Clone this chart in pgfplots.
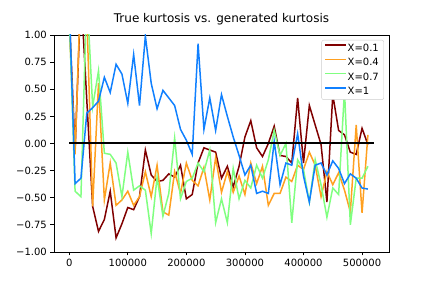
\documentclass[border=0pt]{standalone}
\usepackage{pgfplots}
\usepackage{pgfplotstable}
\pgfplotsset{compat=1.18}
\usepackage{fontspec}
\setmainfont{DejaVu Sans}
\definecolor{cbrown}{RGB}{128,0,0}
\definecolor{corange}{RGB}{255,160,32}
\definecolor{cgreen}{RGB}{128,255,128}
\definecolor{cblue}{RGB}{16,128,255}
\pgfplotstableread{
x brown orange green blue
0 1.2 1.1 1.2 1.3
10000 -0.06 -0.1 -0.44 -0.37
20000 1.4 1.5 -0.49 -0.32
30000 0.4 1.2 1.4 0.28
40000 -0.58 -0.58 0.34 0.33
50000 -0.81 0.555 0.67 0.39
60000 -0.70 -0.52 -0.09 0.61
70000 -0.44 -0.18 -0.10 0.47
80000 -0.87 -0.57 -0.18 0.73
90000 -0.74 -0.52 -0.49 0.64
100000 -0.59 -0.44 -0.08 0.37
110000 -0.61 -0.57 -0.43 0.82
120000 -0.49 -0.49 -0.39 0.35
130000 -0.06 -0.26 -0.43 0.99
140000 -0.29 -0.49 -0.83 0.555
150000 -0.35 -0.20 -0.31 0.32
160000 -0.34 -0.63 -0.67 0.49
170000 -0.28 -0.66 -0.46 0.42
180000 -0.31 -0.26 0.05 0.35
190000 -0.20 -0.46 -0.51 0.13
200000 -0.51 -0.18 -0.35 0.03
210000 -0.47 -0.34 -0.32 -0.10
220000 -0.18 -0.39 -0.18 0.92
230000 -0.04 -0.22 -0.26 0.13
240000 -0.06 -0.52 -0.06 0.42
250000 -0.08 -0.13 -0.73 0.12
260000 -0.32 -0.45 -0.51 0.45
270000 -0.21 -0.26 -0.73 0.25
280000 -0.40 -0.45 -0.23 0.06
290000 -0.21 -0.30 -0.51 -0.11
300000 0.06 -0.47 -0.34 -0.29
310000 0.21 -0.18 -0.41 -0.20
320000 -0.04 -0.37 -0.20 -0.46
330000 -0.12 -0.21 -0.32 -0.44
340000 0.0 -0.57 -0.15 -0.46
350000 0.16 -0.46 0.12 0.02
360000 -0.11 -0.46 -0.11 -0.38
370000 -0.12 -0.31 0.0 -0.18
380000 -0.18 -0.35 -0.73 -0.20
390000 0.42 -0.20 -0.15 0.09
400000 -0.18 -0.24 -0.24 -0.30
410000 0.35 -0.08 -0.54 -0.54
420000 0.17 -0.20 -0.15 -0.20
430000 -0.01 -0.49 -0.38 -0.18
440000 -0.54 -0.26 -0.68 -0.29
450000 0.45 -0.38 -0.41 -0.16
460000 0.12 -0.27 -0.47 -0.23
470000 0.08 -0.43 0.49 -0.37
480000 -0.08 -0.63 -0.75 -0.28
490000 -0.10 0.17 -0.32 -0.32
500000 0.14 -0.64 -0.32 -0.41
510000 -0.01 0.08 -0.21 -0.42
}\datatable
\begin{document}
\begin{tikzpicture}
\useasboundingbox (0,0) rectangle (432pt,288pt);
\begin{axis}[
  at={(54pt,36pt)}, anchor=south west,
  scale only axis, width=335pt, height=217pt,
  xmin=-26000, xmax=546000, ymin=-1, ymax=1,
  scaled x ticks=false, scaled y ticks=false,
  axis line style={line width=0.8pt},
  tick align=outside, tick pos=left,
  major tick length=3.5pt,
  every tick/.style={line width=0.8pt, black},
  xtick={0,100000,200000,300000,400000,500000},
  xticklabels={0,100000,200000,300000,400000,500000},
  ytick={-1,-0.75,-0.5,-0.25,0,0.25,0.5,0.75,1},
  yticklabels={−1.00,−0.75,−0.50,−0.25,0.00,0.25,0.50,0.75,1.00},
  ticklabel style={font=\fontsize{10}{12}\selectfont},
  xticklabel style={inner sep=0pt, anchor=north, yshift=-3.5pt},
  yticklabel style={inner sep=0pt, anchor=east, xshift=-3.5pt},
  title={True kurtosis vs. generated kurtosis},
  title style={font=\fontsize{12}{14}\selectfont, at={(0.5,1)}, anchor=base, yshift=6.5pt, inner sep=0pt},
  legend style={at={(1,1)}, anchor=north east, xshift=-5pt, yshift=-5pt,
    font=\fontsize{10}{12}\selectfont, draw=black!20, rounded corners=2pt,
    fill=white, inner xsep=3pt, inner ysep=2pt,
    row sep=1.3pt},
  legend cell align=left,
]
\addplot[cbrown, line width=1.5pt, mark=none,
  legend image code/.code={\fill[fill=cbrown, draw=none, sharp corners] (0pt,2.75pt) rectangle (21pt,4.25pt);}]
  table[x=x, y=brown] {\datatable};
\addlegendentry{X=0.1}
\addplot[corange, line width=1.5pt, mark=none,
  legend image code/.code={\fill[fill=corange, draw=none, sharp corners] (0pt,2.75pt) rectangle (21pt,4.25pt);}]
  table[x=x, y=orange] {\datatable};
\addlegendentry{X=0.4}
\addplot[cgreen, line width=1.5pt, mark=none,
  legend image code/.code={\fill[fill=cgreen, draw=none, sharp corners] (0pt,2.75pt) rectangle (21pt,4.25pt);}]
  table[x=x, y=green] {\datatable};
\addlegendentry{X=0.7}
\addplot[cblue, line width=1.5pt, mark=none,
  legend image code/.code={\fill[fill=cblue, draw=none, sharp corners] (0pt,2.75pt) rectangle (21pt,4.25pt);}]
  table[x=x, y=blue] {\datatable};
\addlegendentry{X=1}
\addplot[black, line width=2pt, mark=none, forget plot] coordinates {(0,0) (520000,0)};
\end{axis}
\end{tikzpicture}
\end{document}
